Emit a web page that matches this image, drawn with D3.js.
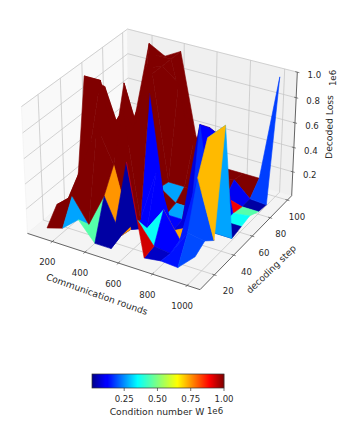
<!DOCTYPE html>
<html><head><meta charset="utf-8">
<script src="https://cdn.jsdelivr.net/npm/d3@7/dist/d3.min.js"></script>
<style>html,body{margin:0;padding:0;background:#fff}svg{display:block}text{font-family:"DejaVu Sans",sans-serif;fill:#2a2a2a}</style>
</head><body><svg id="c" width="343" height="423"></svg>
<script>
const rounds=[138,236,334,431,529,627,725,822,920,1018];
const steps=[10,19.5,29,38.5,48,58,67,77,86,96];
const loss=[
[.05,.09,.2,.05,.05,.77,.06,.08,.07,.2],
[.17,.28,.09,.36,.08,.25,.08,.065,.27,.25],
[.13,.45,.8,.54,.06,.11,.3,.1,.63,.18],
[.135,.6,.68,.9,.07,.5,.06,.13,.87,1.0],
[1.0,1.0,.38,.7,1.0,.08,.08,.87,.05,.05],
[.9,.48,.55,.9,.19,.1,.1,.78,.07,.07],
[.8,.44,.6,1.0,.17,.17,.15,.67,.07,.09],
[.32,.28,.95,1.0,.9,.5,.2,.09,.05,.05],
[.71,.3,1.0,1.0,.5,.15,.15,.17,.05,.04],
[.33,1.0,.93,1.0,.35,.15,.15,.15,.15,1.0]];
const cond=[
[1,.27,.45,.03,.03,.93,.06,.14,.19],
[1,1,1,.75,.03,.36,.11,.15,.19],
[1,1,1,1,.11,.11,.73,.16,.715],
[1,1,1,1,.11,.11,.08,.16,.27],
[1,1,1,1,1,.27,1,.11,.03],
[1,1,1,1,.27,1,1,.11,.36],
[1,1,1,1,1,1,1,.9,.45],
[1,1,1,1,1,1,1,.1,.03],
[1,1,1,1,1,1,1,1,.18]];
const xTicks=[200,400,600,800,1000];
const yTicks=[20,40,60,80,100];
const zTicks=[.2,.4,.6,.8,1.0];
const cbTicks=[.25,.5,.75,1.0];
const jetStops=[[0,0,0,128],[.11,0,0,255],[.125,0,0,255],[.35,0,255,255],[.5,128,255,128],[.65,255,255,0],[.89,255,0,0],[1,128,0,0]];
const jet=d3.scaleLinear().domain(jetStops.map(d=>d[0])).range(jetStops.map(d=>`rgb(${d[1]},${d[2]},${d[3]})`));

const svg=d3.select('#c');
const xs=d3.scaleLinear().domain([45,1073]).range([0,1]);
const ys=d3.scaleLinear().domain([5.5,105]).range([0,1]);
const zs=d3.scaleLinear().domain([0,1.0]).range([0,1]);
const az=-60*Math.PI/180, el=30*Math.PI/180, D=10, bx=1.19, bz=.87, K=166, CX=162, CY=153;
const w=[Math.cos(el)*Math.cos(az),Math.cos(el)*Math.sin(az),Math.sin(el)];
const u=[-Math.sin(az),Math.cos(az),0];
const v=[w[1]*u[2]-w[2]*u[1],w[2]*u[0]-w[0]*u[2],w[0]*u[1]-w[1]*u[0]];
function proj(x,y,z){
  const p=[(xs(x)-.5)*bx,(ys(y)-.5)*bx,(zs(z)-.5)*bz];
  const dot=a=>a[0]*p[0]+a[1]*p[1]+a[2]*p[2];
  const f=D/(D-dot(w));
  return {x:CX+K*dot(u)*f,y:CY-K*dot(v)*f,d:dot(w)};
}
const [x0,x1]=xs.domain(),[y0,y1]=ys.domain(),[z0,z1]=zs.domain();
const pth=pts=>'M'+pts.map(p=>p.x.toFixed(2)+','+p.y.toFixed(2)).join('L')+'Z';
function line(a,b,col,wd){const p=proj(...a),q=proj(...b);svg.append('line').attr('x1',p.x).attr('y1',p.y).attr('x2',q.x).attr('y2',q.y).attr('stroke',col).attr('stroke-width',wd);}
// panes
[[[x0,y0,z0],[x0,y1,z0],[x0,y1,z1],[x0,y0,z1],'#f9f9f9'],
 [[x0,y1,z0],[x1,y1,z0],[x1,y1,z1],[x0,y1,z1],'#f0f0f0'],
 [[x0,y0,z0],[x1,y0,z0],[x1,y1,z0],[x0,y1,z0],'#f4f4f4']].forEach(q=>{
  svg.append('path').attr('d',pth(q.slice(0,4).map(a=>proj(...a)))).attr('fill',q[4]).attr('stroke','#f0f0f0').attr('stroke-width',.6);
});
const G='#c4c4c4',GW=.75;
xTicks.forEach(t=>{line([t,y0,z0],[t,y1,z0],G,GW);line([t,y1,z0],[t,y1,z1],G,GW);});
yTicks.forEach(t=>{line([x0,t,z0],[x1,t,z0],G,GW);line([x0,t,z0],[x0,t,z1],G,GW);});
zTicks.forEach(t=>{line([x0,y0,t],[x0,y1,t],G,GW);line([x0,y1,t],[x1,y1,t],G,GW);});
// surface
const faces=[];
cond.forEach((row,j)=>row.forEach((c,i)=>{
  const pts=[[i,j],[i+1,j],[i+1,j+1],[i,j+1]].map(([a,b])=>proj(rounds[a],steps[b],loss[b][a]));
  faces.push({pts,c,d:d3.mean(pts,p=>p.d)});
}));
faces.sort((a,b)=>a.d-b.d);
svg.append('g').selectAll('path').data(faces).join('path').attr('d',f=>pth(f.pts)).attr('fill',f=>jet(f.c)).attr('stroke',f=>jet(f.c)).attr('stroke-width',.6).attr('stroke-linejoin','round');
// axes
const AX='#555',AW=.9;
line([x0,y0,z0],[x1,y0,z0],AX,AW);
line([x1,y0,z0],[x1,y1,z0],AX,AW);
line([x1,y1,z0],[x1,y1,z1],AX,AW);
const T=(s,x,y,o={})=>svg.append('text').attr('transform',`translate(${x},${y}) rotate(${o.r||0})`).attr('text-anchor',o.a||'middle').attr('dominant-baseline','central').attr('font-size',o.s||8.6).text(s);
xTicks.forEach(t=>{line([t,y0-1.5,z0],[t,y0+1.5,z0],AX,.7);const p=proj(t,y0,z0);T(t,p.x-5,p.y+21);});
yTicks.forEach(t=>{line([x1-12,t,z0],[x1+12,t,z0],AX,.7);const p=proj(x1,t,z0);T(t,p.x+15-.055*t,p.y+16.5);});
zTicks.forEach(t=>{const p=proj(x1,y1,t);line([x1-12,y1,t],[x1+12,y1,t],AX,.7);T(t.toFixed(1),p.x+17,p.y+3);});
T('Communication rounds',97,294,{r:19.5,s:9.2});
T('decoding step',271,269,{r:-44,s:9.2});
T('Decoded Loss',329,127,{r:-89,s:9.2});
T('1e6',333,78,{r:-90});
// colorbar
const cb=d3.scaleLinear().domain([.008,1]).range([92,224]);
svg.append('g').selectAll('rect').data(d3.range(92,224)).join('rect').attr('x',d=>d).attr('y',374).attr('width',1.2).attr('height',14).attr('fill',d=>jet(cb.invert(d+.5)));
svg.append('rect').attr('x',92).attr('y',374).attr('width',132).attr('height',14).attr('fill','none').attr('stroke','#333').attr('stroke-width',.7);
cbTicks.forEach(t=>{svg.append('line').attr('x1',cb(t)).attr('x2',cb(t)).attr('y1',388).attr('y2',391).attr('stroke','#333').attr('stroke-width',.7);T(t.toFixed(2),cb(t),398.5);});
T('Condition number W',157,411,{s:9.2});
T('1e6',215,411,{s:8.6});
</script></body></html>
